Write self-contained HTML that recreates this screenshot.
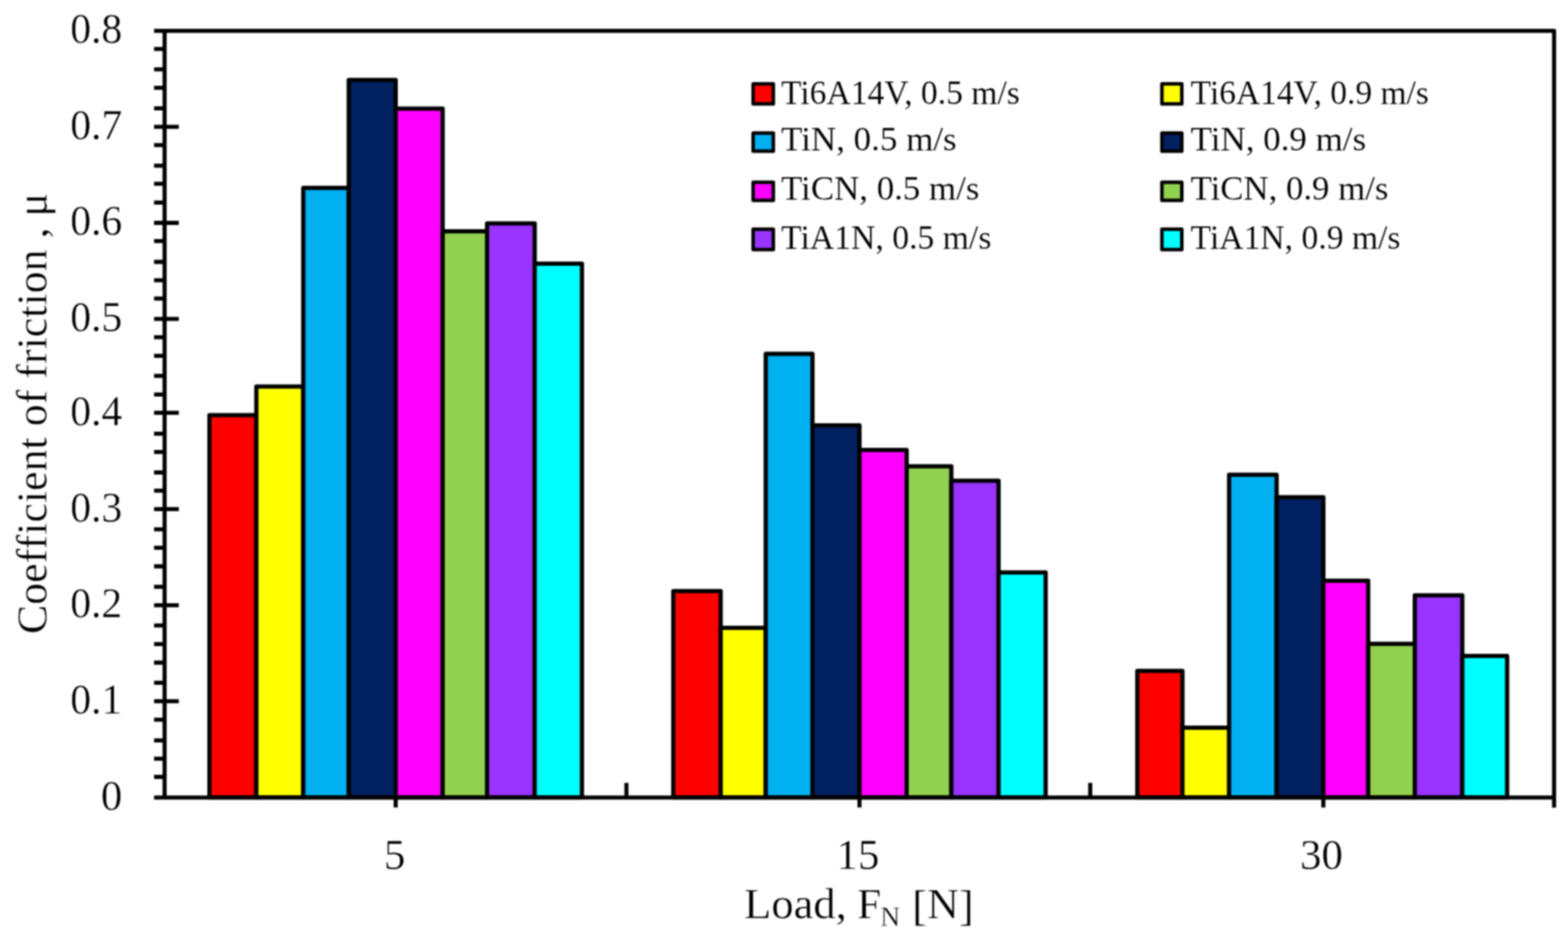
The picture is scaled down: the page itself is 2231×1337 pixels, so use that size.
<!DOCTYPE html>
<html><head><meta charset="utf-8"><title>Coefficient of friction vs load</title><style>html,body{margin:0;padding:0;background:#fff;overflow:hidden;}svg{display:block;filter:blur(1.00px);}</style></head><body>
<svg width="2231" height="1337" viewBox="0 0 2231 1337">
<rect x="0" y="0" width="2231" height="1337" fill="#fff"/>
<g stroke="#000" stroke-width="6.00" stroke-linejoin="round">
<rect x="298.00" y="590.50" width="66.70" height="543.80" fill="#FF0000"/>
<rect x="364.70" y="549.80" width="66.80" height="584.50" fill="#FFFF00"/>
<rect x="431.50" y="267.30" width="64.70" height="867.00" fill="#00B0F0"/>
<rect x="496.20" y="113.80" width="66.80" height="1020.50" fill="#002060"/>
<rect x="563.00" y="154.50" width="66.80" height="979.80" fill="#FF00FF"/>
<rect x="629.80" y="329.00" width="63.20" height="805.30" fill="#92D050"/>
<rect x="693.00" y="317.80" width="67.80" height="816.50" fill="#9933FF"/>
<rect x="760.80" y="375.00" width="67.20" height="759.30" fill="#00FFFF"/>
<rect x="958.00" y="840.80" width="67.40" height="293.50" fill="#FF0000"/>
<rect x="1025.40" y="892.90" width="64.10" height="241.40" fill="#FFFF00"/>
<rect x="1089.50" y="503.30" width="66.50" height="631.00" fill="#00B0F0"/>
<rect x="1156.00" y="604.90" width="66.90" height="529.40" fill="#002060"/>
<rect x="1222.90" y="640.10" width="67.10" height="494.20" fill="#FF00FF"/>
<rect x="1290.00" y="663.20" width="63.60" height="471.10" fill="#92D050"/>
<rect x="1353.60" y="683.70" width="67.20" height="450.60" fill="#9933FF"/>
<rect x="1420.80" y="814.30" width="67.00" height="320.00" fill="#00FFFF"/>
<rect x="1618.20" y="954.30" width="64.20" height="180.00" fill="#FF0000"/>
<rect x="1682.40" y="1035.00" width="66.40" height="99.30" fill="#FFFF00"/>
<rect x="1748.80" y="675.20" width="67.60" height="459.10" fill="#00B0F0"/>
<rect x="1816.40" y="707.30" width="66.50" height="427.00" fill="#002060"/>
<rect x="1882.90" y="826.00" width="63.80" height="308.30" fill="#FF00FF"/>
<rect x="1946.70" y="915.70" width="66.30" height="218.60" fill="#92D050"/>
<rect x="2013.00" y="846.80" width="67.60" height="287.50" fill="#9933FF"/>
<rect x="2080.60" y="933.00" width="63.80" height="201.30" fill="#00FFFF"/>
</g>
<g stroke="#000" stroke-width="5.80" fill="none" stroke-linecap="butt">
<path d="M219.20 43.90 H2211.20 V1148.70" stroke-linejoin="round"/>
<path d="M234.20 43.90 V1134.30"/>
<path d="M219.20 1134.30 H2211.20"/>
<path d="M219.2 69.70 H234.20 M219.2 98.60 H234.20 M219.2 124.90 H234.20 M219.2 154.20 H234.20 M219.2 180.30 H254.4 M219.2 206.40 H234.20 M219.2 235.60 H234.20 M219.2 261.40 H234.20 M219.2 288.10 H234.20 M219.2 317.00 H254.4 M219.2 342.90 H234.20 M219.2 372.50 H234.20 M219.2 398.60 H234.20 M219.2 424.70 H234.20 M219.2 453.60 H254.4 M219.2 479.70 H234.20 M219.2 506.10 H234.20 M219.2 534.70 H234.20 M219.2 561.10 H234.20 M219.2 587.20 H254.4 M219.2 616.80 H234.20 M219.2 642.80 H234.20 M219.2 672.00 H234.20 M219.2 697.80 H234.20 M219.2 724.20 H254.4 M219.2 752.90 H234.20 M219.2 779.10 H234.20 M219.2 805.50 H234.20 M219.2 834.70 H234.20 M219.2 860.80 H254.4 M219.2 889.70 H234.20 M219.2 916.10 H234.20 M219.2 942.50 H234.20 M219.2 971.10 H234.20 M219.2 997.30 H254.4 M219.2 1023.70 H234.20 M219.2 1053.10 H234.20 M219.2 1079.20 H234.20 M219.2 1105.00 H234.20"/>
<path d="M563.00 1134.30 V1148.5 M1222.90 1134.30 V1148.5 M1882.90 1134.30 V1148.5 M891.30 1134.30 V1113.5 M1551.20 1134.30 V1113.5"/>
</g>
<g font-family="'Liberation Serif', serif" stroke="#fff" stroke-width="0.50" font-size="61" fill="#000">
<text x="174.00" y="1151.60" text-anchor="end">0</text>
<text x="99.90" y="1014.70" textLength="74.1" lengthAdjust="spacingAndGlyphs">0.1</text>
<text x="99.90" y="878.20" textLength="74.1" lengthAdjust="spacingAndGlyphs">0.2</text>
<text x="99.90" y="741.60" textLength="74.1" lengthAdjust="spacingAndGlyphs">0.3</text>
<text x="99.90" y="604.60" textLength="74.1" lengthAdjust="spacingAndGlyphs">0.4</text>
<text x="99.90" y="471.00" textLength="74.1" lengthAdjust="spacingAndGlyphs">0.5</text>
<text x="99.90" y="334.40" textLength="74.1" lengthAdjust="spacingAndGlyphs">0.6</text>
<text x="99.90" y="197.70" textLength="74.1" lengthAdjust="spacingAndGlyphs">0.7</text>
<text x="99.90" y="61.10" textLength="74.1" lengthAdjust="spacingAndGlyphs">0.8</text>
</g>
<g font-family="'Liberation Serif', serif" stroke="#fff" stroke-width="0.50" font-size="61" text-anchor="middle" fill="#000">
<text x="561.60" y="1235.50">5</text>
<text x="1220.65" y="1235.50">15</text>
<text x="1880.25" y="1235.50">30</text>
</g>
<g font-family="'Liberation Serif', serif" stroke="#fff" stroke-width="0.50" fill="#000">
<text font-size="61.5" x="1058.8" y="1306.0" textLength="146.1" lengthAdjust="spacingAndGlyphs">Load,</text>
<text font-size="61.5" x="1219.4" y="1306.0">F</text>
<text font-size="39.2" x="1252.4" y="1317.3">N</text>
<text font-size="61.5" x="1298.0" y="1306.0" textLength="87.5" lengthAdjust="spacingAndGlyphs"><tspan dy="2.8">[</tspan><tspan dy="-2.8">N</tspan><tspan dy="2.8">]</tspan></text>
</g>
<text font-family="'Liberation Serif', serif" stroke="#fff" stroke-width="0.50" font-size="61.5" fill="#000" transform="translate(65.5 901.8) rotate(-90)" x="0" y="0" textLength="627.4" lengthAdjust="spacingAndGlyphs">Coefficient of friction , μ</text>
<g font-family="'Liberation Serif', serif" stroke="#fff" stroke-width="0.20" font-size="47.5" fill="#000">
<rect x="1071.60" y="119.30" width="28.70" height="28.40" fill="#FF0000" stroke="#000" stroke-width="5" stroke-linejoin="round"/>
<text x="1111.30" y="147.50" textLength="339.7" lengthAdjust="spacingAndGlyphs">Ti6A14V, 0.5 m/s</text>
<rect x="1653.20" y="119.30" width="28.30" height="28.40" fill="#FFFF00" stroke="#000" stroke-width="5" stroke-linejoin="round"/>
<text x="1694.00" y="147.50" textLength="339.1" lengthAdjust="spacingAndGlyphs">Ti6A14V, 0.9 m/s</text>
<rect x="1071.60" y="189.30" width="28.70" height="25.70" fill="#00B0F0" stroke="#000" stroke-width="5" stroke-linejoin="round"/>
<text x="1111.30" y="214.30" textLength="249.9" lengthAdjust="spacingAndGlyphs">TiN, 0.5 m/s</text>
<rect x="1653.20" y="189.30" width="28.30" height="25.70" fill="#002060" stroke="#000" stroke-width="5" stroke-linejoin="round"/>
<text x="1694.00" y="214.30" textLength="249.8" lengthAdjust="spacingAndGlyphs">TiN, 0.9 m/s</text>
<rect x="1071.60" y="259.30" width="28.70" height="25.70" fill="#FF00FF" stroke="#000" stroke-width="5" stroke-linejoin="round"/>
<text x="1111.30" y="284.30" textLength="282.2" lengthAdjust="spacingAndGlyphs">TiCN, 0.5 m/s</text>
<rect x="1653.20" y="259.30" width="28.30" height="25.70" fill="#92D050" stroke="#000" stroke-width="5" stroke-linejoin="round"/>
<text x="1694.00" y="284.30" textLength="281.5" lengthAdjust="spacingAndGlyphs">TiCN, 0.9 m/s</text>
<rect x="1071.60" y="326.10" width="28.70" height="28.90" fill="#9933FF" stroke="#000" stroke-width="5" stroke-linejoin="round"/>
<text x="1111.30" y="354.30" textLength="299.3" lengthAdjust="spacingAndGlyphs">TiA1N, 0.5 m/s</text>
<rect x="1653.20" y="326.10" width="28.30" height="28.90" fill="#00FFFF" stroke="#000" stroke-width="5" stroke-linejoin="round"/>
<text x="1694.00" y="354.30" textLength="298.7" lengthAdjust="spacingAndGlyphs">TiA1N, 0.9 m/s</text>
</g>
</svg></body></html>
